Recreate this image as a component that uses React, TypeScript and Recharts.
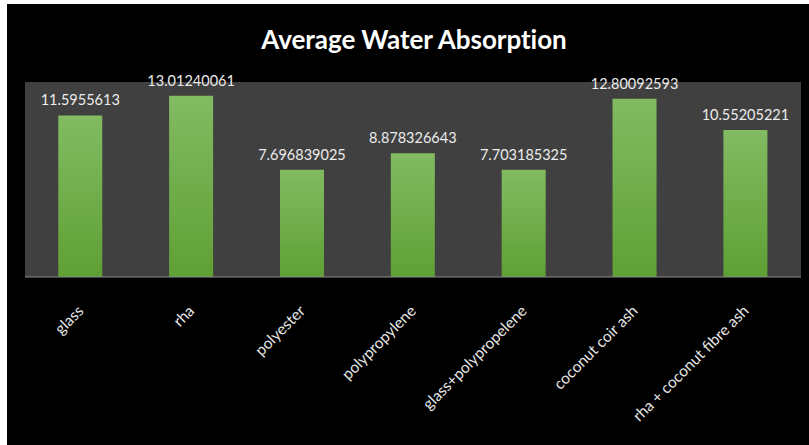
import { BarChart, Bar, XAxis, YAxis, CartesianGrid, LabelList } from 'recharts';

const materials = [
  'glass',
  'rha',
  'polyester',
  'polypropylene',
  'glass+polypropelene',
  'coconut coir ash',
  'rha + coconut fibre ash',
];

const absorption = [
  11.5955613, 13.01240061, 7.696839025, 8.878326643, 7.703185325, 12.80092593, 10.55205221,
];

const data = materials.map((name, i) => ({ name, value: absorption[i] }));

const FONT = 'Lato, "Open Sans", sans-serif';

const SlantTick = (props: any) => {
  const { x, y, payload } = props;
  return (
    <g transform={`translate(${x + 4},${y + 27})`}>
      <text
        transform="rotate(-45)"
        textAnchor="end"
        fill="#e6e6e6"
        fontSize={15.5}
        fontFamily={FONT}
      >
        {payload.value}
      </text>
    </g>
  );
};

export default function App() {
  return (
    <div style={{ position: 'absolute', left: 0, top: 0, width: 809, height: 445, background: '#fff' }}>
      <div style={{ position: 'absolute', left: 7, top: 4, width: 802, height: 441, background: '#000' }}>
        <div
          style={{
            position: 'absolute',
            top: 19,
            left: 6,
            width: '100%',
            textAlign: 'center',
            color: '#fff',
            fontFamily: FONT,
            fontWeight: 700,
            fontSize: 26,
            letterSpacing: -0.05,
          }}
        >
          Average Water Absorption
        </div>
        <BarChart
          width={802}
          height={441}
          data={data}
          margin={{ top: 78, right: 8, left: 18, bottom: 0 }}
          barCategoryGap="30%"
        >
          <defs>
            <linearGradient id="barFill" x1="0" y1="0" x2="0" y2="1">
              <stop offset="0%" stopColor="#82bb62" />
              <stop offset="100%" stopColor="#5fa034" />
            </linearGradient>
          </defs>
          <CartesianGrid horizontal={false} vertical={false} fill="#404040" />
          <YAxis hide domain={[0, 14]} />
          <XAxis
            dataKey="name"
            height={168}
            interval={0}
            tickLine={false}
            axisLine={{ stroke: '#8c8c8c' }}
            tick={<SlantTick />}
          />
          <Bar dataKey="value" fill="url(#barFill)" isAnimationActive={false}>
            <LabelList
              dataKey="value"
              position="top"
              offset={10}
              fill="#ececec"
              fontSize={14.5}
              fontFamily={FONT}
            />
          </Bar>
        </BarChart>
      </div>
    </div>
  );
}
